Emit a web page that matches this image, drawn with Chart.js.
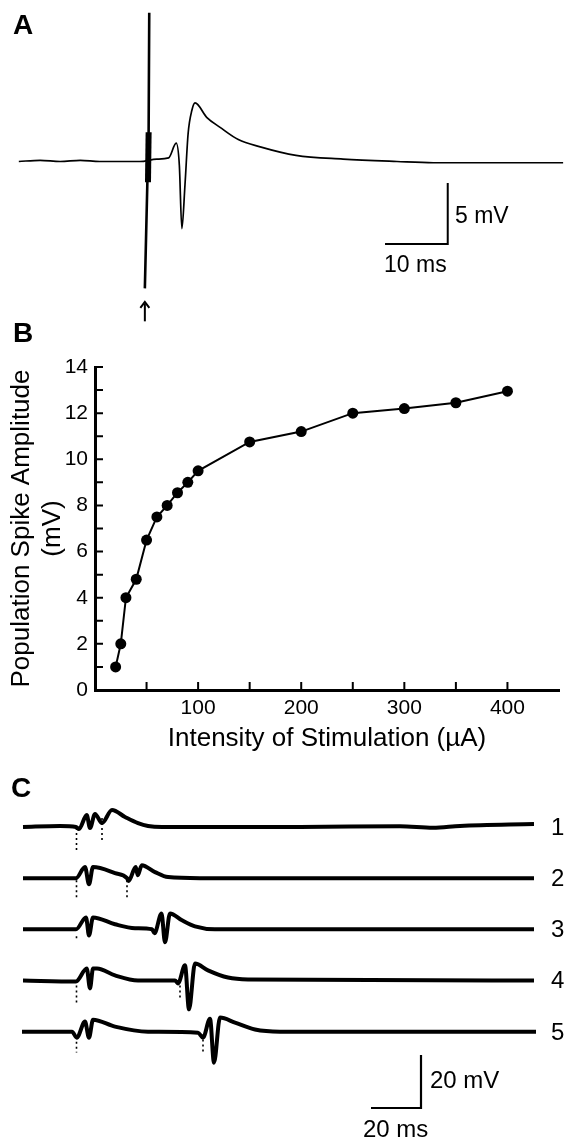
<!DOCTYPE html>
<html>
<head>
<meta charset="utf-8">
<title>Population spike vs stimulation intensity</title>
<script src="https://cdn.jsdelivr.net/npm/chart.js@4.4.1/dist/chart.umd.min.js"></script>
<style>
  body { margin: 0; background: #fff; }
  #fig { position: relative; width: 565px; height: 1139px; overflow: hidden; font-family: 'Liberation Sans', Arial, sans-serif; color: #000; }
  canvas { position: absolute; left: 0; }
  .lbl { position: absolute; line-height: 1; white-space: nowrap; transform: translateY(-50%); }
  .panel { font-weight: bold; font-size: 28px; }
  .bar { font-size: 23px; }
  .sweep { font-size: 24px; }
</style>
</head>
<body>
<div id="fig">
  <canvas id="chartA" width="565" height="325" style="top:0"></canvas>
  <canvas id="chartB" width="565" height="420" style="top:340px"></canvas>
  <canvas id="chartC" width="565" height="369" style="top:770px"></canvas>

  <div class="lbl panel" style="left:13px; top:25px">A</div>
  <div class="lbl bar" style="left:455px; top:215px">5 mV</div>
  <div class="lbl bar" style="left:384px; top:264px">10 ms</div>

  <div class="lbl panel" style="left:13px; top:333px">B</div>

  <div class="lbl panel" style="left:11px; top:788px">C</div>
  <div class="lbl sweep" style="left:551px; top:827px">1</div>
  <div class="lbl sweep" style="left:551px; top:878px">2</div>
  <div class="lbl sweep" style="left:551px; top:929px">3</div>
  <div class="lbl sweep" style="left:551px; top:980px">4</div>
  <div class="lbl sweep" style="left:551px; top:1032px">5</div>
  <div class="lbl bar" style="left:430px; top:1080px; font-size:24px">20 mV</div>
  <div class="lbl bar" style="left:363px; top:1129px; font-size:24px">20 ms</div>
</div>
<script>
Chart.defaults.font.family = "'Liberation Sans', Arial, sans-serif";
Chart.defaults.color = '#000';

// ---- A: one field potential (ms after stimulus, mV from baseline)
const timeA = [-20.6, -17.2, -14.0, -10.8, -7.7, -4.5, -1.3, 1.4, 3.3, 4.5, 5.0, 5.4, 5.9, 6.4, 7.0, 7.5, 9.4, 11.5, 14.4, 17.9, 23.6, 31.1, 39.7, 45.5, 51.2, 58.0, 66.2];
const voltA = [0.0, 0.1, 0.0, 0.1, 0.0, 0.0, 0.0, 0.2, 0.3, 1.5, -0.3, -5.5, -1.9, 2.3, 4.2, 4.8, 3.6, 2.8, 1.8, 1.2, 0.5, 0.2, 0.0, -0.1, -0.1, -0.1, -0.1];
const artifactT = [0.2, 0.1, -0.1, -0.5];
const artifactV = [12.2, 2.4, -1.7, -10.4];
const blobT = [0.1, 0.0];
const blobV = [2.4, -1.7];

// ---- B: input/output curve
const intensity = [20, 25, 30, 40, 50, 60, 70, 80, 90, 100, 150, 200, 250, 300, 350, 400];
const amplitude = [1, 2, 4, 4.8, 6.5, 7.5, 8, 8.55, 9, 9.5, 10.75, 11.2, 12, 12.2, 12.45, 12.95];

// ---- C: five sweeps with a paired stimulus at growing intervals
const trace1T = [-21.4, -6.6, -0.2, 1.0, 4.1, 5.4, 7.4, 10.2, 14.2, 19.4, 24.6, 28.6, 34.2, 89.4, 129.4, 142.6, 153.4, 183.0];
const trace1V = [0, 0.4, 0, -0.75, 4.5, -0.4, 4.9, 1.5, 6.4, 3.8, 1.5, 0.4, 0, 0, 0.3, -0.3, 0.4, 1.1];
const trace2T = [-21.4, -0.2, 3.4, 5.0, 6.6, 15.4, 20.2, 20.8, 23.7, 24.5, 26.1, 31.4, 36.6, 49.4, 183.0];
const trace2V = [0, 0, 4.2, -2.3, 4.2, 1.9, 0, -1.1, 4.2, 1.1, 4.9, 2.3, 0.4, 0, 0];
const trace3T = [-21.4, -0.2, 3.8, 5.0, 6.6, 15.4, 23.4, 30.2, 31.2, 34.0, 35.4, 37.4, 42.2, 47.4, 55.4, 183.0];
const trace3V = [0, 0, 4.5, -2.3, 4.5, 1.9, 0.4, 0, -1.5, 6.0, -4.9, 6.0, 3.4, 1.1, 0, 0];
const trace4T = [-21.4, -0.2, 4.1, 5.4, 6.6, 8.2, 15.4, 24.6, 39.4, 40.6, 43.4, 45.0, 47.4, 52.6, 60.6, 68.6, 183.0];
const trace4V = [0, -0.4, 4.5, -3.0, 4.5, 4.5, 1.9, 0, 0, -1.1, 5.7, -10.9, 6.4, 3.8, 1.1, 0.4, 0];
const trace5T = [-21.8, -1.8, 0.1, 3.4, 5.0, 6.6, 15.4, 28.6, 48.6, 50.6, 53.4, 55.0, 57.4, 63.4, 71.4, 81.4, 183.8];
const trace5V = [0, 0, -2.3, 3.8, -2.3, 4.5, 1.9, 0, -0.4, -2.3, 4.9, -11.7, 5.3, 3.4, 0.8, 0, 0];

// dotted onset marks: sweep index, time, top and bottom (mV)
const markSweep = [0, 0, 1, 1, 2, 3, 3, 4, 4];
const markT = [0, 10.2, 0, 20.2, 0, 0, 41.4, 0, 50.6];
const markTop = [-0.4, 3.4, -0.8, -0.8, -2.6, -1.9, -1.9, -3.8, -1.1];
const markBottom = [-9.4, -4.9, -7.2, -7.2, -4.5, -8.3, -7.5, -7.9, -7.9];

const rowGap = 19.3; // mV between stacked sweeps

function pts(ts, vs, shift) {
    return ts.map((t, i) => ({ x: t, y: vs[i] - (shift || 0) }));
}

function traceOptions(xMin, xMax, yMin, yMax) {
    return {
        responsive: false,
        animation: false,
        events: [],
        layout: { padding: 0 },
        elements: { point: { radius: 0 } },
        plugins: { legend: { display: false }, tooltip: { enabled: false } },
        scales: {
            x: { type: 'linear', display: false, min: xMin, max: xMax },
            y: { type: 'linear', display: false, min: yMin, max: yMax }
        }
    };
}

function line(data, width, extra) {
    return Object.assign({ data: data, showLine: true, borderColor: '#000', borderWidth: width, pointRadius: 0, tension: 0 }, extra || {});
}

// ---------- panel A
const barA = { t: 37.8, v: -6.76, ms: 10, mV: 5 };
const arrowA = { t: -0.5, tip: -11.5, tail: -13.1 };

const arrowPlugin = {
    id: 'stimArrow',
    afterDatasetsDraw(chart) {
        const { ctx, scales: { x, y } } = chart;
        const px = x.getPixelForValue(arrowA.t);
        const tip = y.getPixelForValue(arrowA.tip);
        const tail = y.getPixelForValue(arrowA.tail);
        ctx.save();
        ctx.strokeStyle = '#000';
        ctx.lineWidth = 2;
        ctx.beginPath();
        ctx.moveTo(px, tail);
        ctx.lineTo(px, tip + 2);
        ctx.stroke();
        ctx.beginPath();
        ctx.moveTo(px - 4.5, tip + 6);
        ctx.lineTo(px, tip);
        ctx.lineTo(px + 4.5, tip + 6);
        ctx.stroke();
        ctx.restore();
    }
};

new Chart(document.getElementById('chartA'), {
    type: 'scatter',
    data: {
        datasets: [
            line(pts(timeA, voltA), 1.7, { cubicInterpolationMode: 'monotone' }),
            line(pts(artifactT, artifactV), 2.6),
            line(pts(blobT, blobV), 6),
            line([{ x: barA.t, y: barA.v }, { x: barA.t + barA.ms, y: barA.v }, { x: barA.t + barA.ms, y: barA.v + barA.mV }], 2)
        ]
    },
    options: traceOptions(-23.6, 66.5, -13.4, 13.24),
    plugins: [arrowPlugin]
});

// ---------- panel B
const inwardTicks = {
    id: 'inwardTicks',
    afterDatasetsDraw(chart) {
        const { ctx, chartArea, scales: { x, y } } = chart;
        ctx.save();
        ctx.strokeStyle = '#000';
        ctx.lineWidth = 2;
        ctx.beginPath();
        y.ticks.forEach(t => {
            if (t.value > 0) {
                const py = y.getPixelForValue(t.value);
                ctx.moveTo(chartArea.left, py);
                ctx.lineTo(chartArea.left + 8, py);
            }
        });
        x.ticks.forEach(t => {
            if (t.value > 0 && t.value < x.max) {
                const px = x.getPixelForValue(t.value);
                ctx.moveTo(px, chartArea.bottom);
                ctx.lineTo(px, chartArea.bottom - 8);
            }
        });
        ctx.stroke();
        ctx.restore();
    }
};

new Chart(document.getElementById('chartB'), {
    type: 'scatter',
    data: {
        datasets: [{
            data: pts(intensity, amplitude),
            showLine: true,
            borderColor: '#000',
            borderWidth: 2,
            pointRadius: 5.5,
            pointHoverRadius: 5.5,
            pointBackgroundColor: '#000',
            pointBorderWidth: 0
        }]
    },
    options: {
        responsive: false,
        animation: false,
        events: [],
        layout: { padding: { top: 27, right: 2, left: 0, bottom: 0 } },
        plugins: { legend: { display: false }, tooltip: { enabled: false } },
        scales: {
            x: {
                type: 'linear', min: 0, max: 450,
                afterFit: s => { s.height = 70; },
                grid: { drawOnChartArea: false, drawTicks: false },
                border: { display: true, color: '#000', width: 3 },
                ticks: {
                    stepSize: 50, autoSkip: false, maxRotation: 0, padding: 6,
                    font: { size: 21 },
                    callback: v => (v > 0 && v % 100 === 0) ? v : ''
                },
                title: { display: true, text: 'Intensity of Stimulation (µA)', font: { size: 26 }, padding: { top: 0, bottom: 6 } }
            },
            y: {
                type: 'linear', min: 0, max: 14,
                afterFit: s => { s.width = 95; },
                grid: { drawOnChartArea: false, drawTicks: false },
                border: { display: true, color: '#000', width: 3 },
                ticks: {
                    stepSize: 1, autoSkip: false, padding: 7,
                    font: { size: 21 },
                    callback: v => v % 2 === 0 ? v : ''
                },
                title: { display: true, text: ['Population Spike Amplitude', '(mV)'], font: { size: 26 }, padding: { top: 6, bottom: 0 } }
            }
        }
    },
    plugins: [inwardTicks]
});

// ---------- panel C
const sweepsT = [trace1T, trace2T, trace3T, trace4T, trace5T];
const sweepsV = [trace1V, trace2V, trace3V, trace4V, trace5V];
const barC = { t: 117.8, v: -106, ms: 20, mV: 20 };

const datasetsC = sweepsT.map((ts, i) =>
    line(pts(ts, sweepsV[i], i * rowGap), 4, { cubicInterpolationMode: 'monotone' }));

markT.forEach((t, i) => {
    const shift = markSweep[i] * rowGap;
    datasetsC.push(line([{ x: t, y: markTop[i] - shift }, { x: t, y: markBottom[i] - shift }], 1.6, { borderDash: [2, 3] }));
});

datasetsC.push(line([{ x: barC.t, y: barC.v }, { x: barC.t + barC.ms, y: barC.v }, { x: barC.t + barC.ms, y: barC.v + barC.mV }], 2.2));

new Chart(document.getElementById('chartC'), {
    type: 'scatter',
    data: { datasets: datasetsC },
    options: traceOptions(-30.6, 195.4, -117.7, 21.5)
});
</script>
</body>
</html>
